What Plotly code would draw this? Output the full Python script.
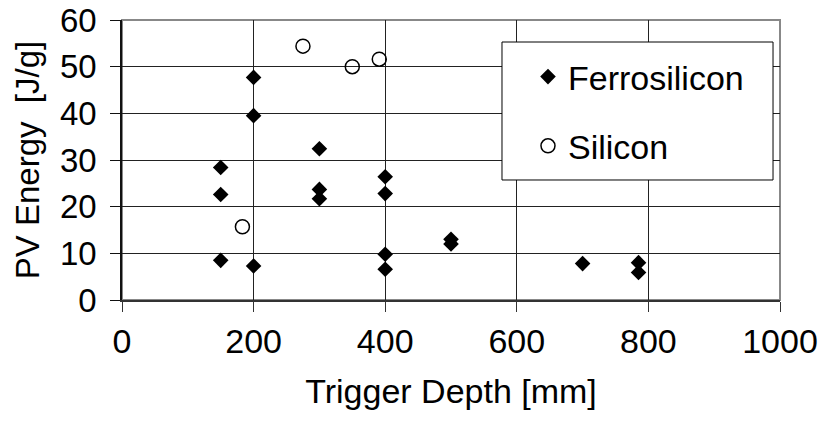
import plotly.graph_objects as go

# Data
ferro_depth = [150, 150, 150, 200, 200, 200, 300, 300, 300, 400, 400, 400, 400, 500, 500, 700, 785, 785]
ferro_energy = [28.4, 22.6, 8.5, 47.7, 39.5, 7.3, 32.4, 23.7, 21.7, 26.4, 22.8, 9.8, 6.6, 13.0, 12.0, 7.8, 8.0, 5.9]
si_depth = [183, 275, 350, 391]
si_energy = [15.7, 54.4, 50.0, 51.6]

x_ticks = [0, 200, 400, 600, 800, 1000]
y_ticks = [0, 10, 20, 30, 40, 50, 60]

FONT = "Liberation Sans, Arial, sans-serif"

fig = go.Figure()
fig.add_trace(go.Scatter(
    x=ferro_depth, y=ferro_energy, mode="markers", name="Ferrosilicon",
    legendgroup="a",
    marker=dict(symbol="diamond", size=12, color="black", line=dict(width=0)),
))
fig.add_trace(go.Scatter(
    x=si_depth, y=si_energy, mode="markers", name="Silicon",
    legendgroup="b",
    marker=dict(symbol="circle-open", size=14, color="black", line=dict(width=1.5, color="black")),
))

# gray frame (top/right)
fig.add_shape(type="rect", xref="x domain", yref="y domain", x0=0, x1=1, y0=0, y1=1,
              line=dict(color="#888888", width=2), layer="below")
# legend box
fig.add_shape(type="rect", xref="x domain", yref="y domain",
              x0=0.5775, x1=0.9894, y0=0.4286, y1=0.9214,
              line=dict(color="black", width=1), fillcolor="white", layer="above")

fig.update_layout(
    width=819, height=429,
    margin=dict(l=122, r=39, t=20, b=129),
    paper_bgcolor="white", plot_bgcolor="white",
    font=dict(family=FONT, size=33, color="black"),
    showlegend=True,
    legend=dict(
        x=0.617, y=0.9, xanchor="left", yanchor="top",
        bgcolor="rgba(0,0,0,0)", borderwidth=0,
        font=dict(size=34), traceorder="grouped", tracegroupgap=22,
        itemwidth=30,
    ),
    xaxis=dict(
        range=[0, 1000], tickvals=x_ticks, ticks="outside", ticklen=10,
        tickcolor="#333333", showline=True, linecolor="#333333", linewidth=2,
        showgrid=True, gridcolor="#222222", gridwidth=1, zeroline=False,
        tickfont=dict(size=34), automargin=False, ticklabeloverflow="allow",
        title=dict(text="Trigger Depth [mm]", font=dict(size=34), standoff=20),
    ),
    yaxis=dict(
        range=[0, 60], tickvals=y_ticks, ticks="outside", ticklen=10,
        tickcolor="#111111", showline=True, linecolor="#111111", linewidth=1.5,
        showgrid=True, gridcolor="#222222", gridwidth=1, zeroline=False,
        tickfont=dict(size=33), automargin=False, ticklabelstandoff=7,
        ticklabeloverflow="allow",
        title=dict(text="PV Energy  [J/g]", font=dict(size=33), standoff=10),
    ),
)

# remove the page's default 8px body margin so the figure fills the window exactly
fig.write_html("out.html", config={"displayModeBar": False},
               post_script="document.body.style.margin='0';")
